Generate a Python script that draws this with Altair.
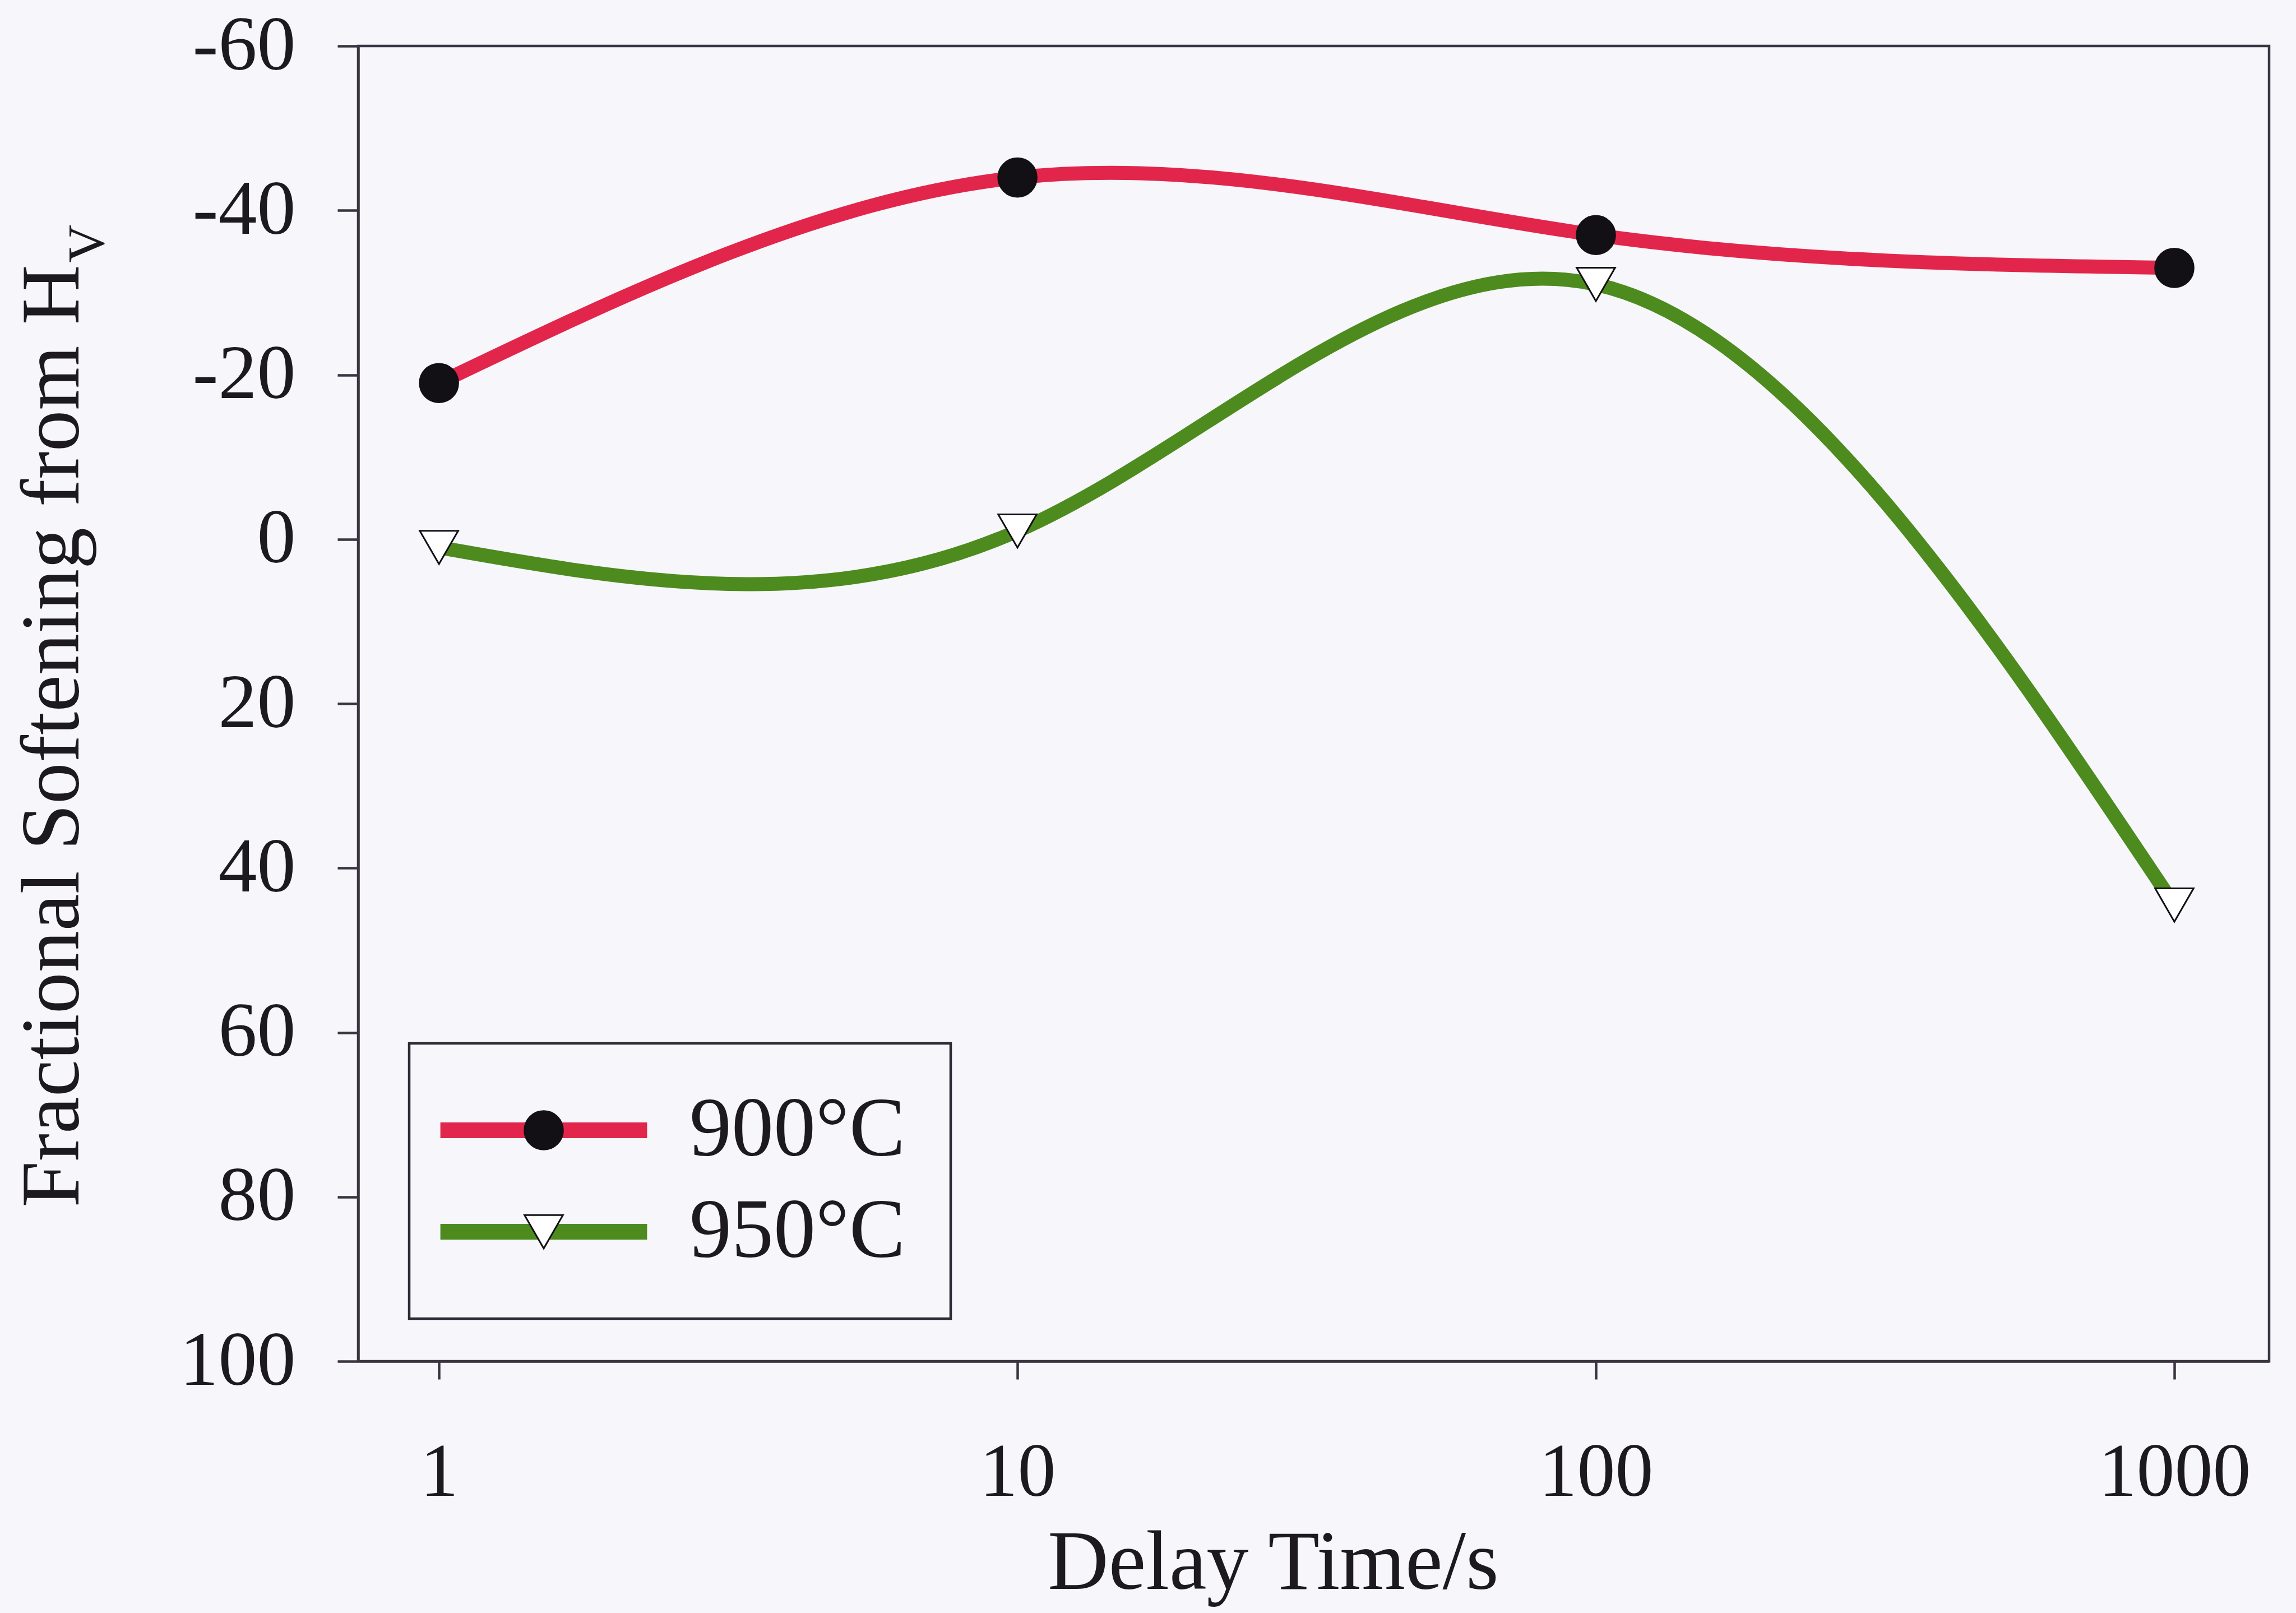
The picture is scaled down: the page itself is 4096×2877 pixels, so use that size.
import altair as alt
import pandas as pd

# Delay time (s) and fractional softening from Vickers hardness
delay_s = [1, 10, 100, 1000]
soft_900 = [-19.0, -44.0, -37.0, -33.0]
soft_950 = [1.0, -1.0, -31.0, 44.5]

temperatures = [900, 950]
series_names = ["900°C", "950°C"]
line_colors = ["#E2264B", "#4E8B1E"]
marker_fills = ["#121014", "#FFFFFF"]
marker_shapes = ["circle", "triangle-down"]

y_ticks = [-60, -40, -20, 0, 20, 40, 60, 80, 100]
x_ticks = [1, 10, 100, 1000]

rows = []
for temp, name, values in zip(temperatures, series_names, [soft_900, soft_950]):
    for t, v in zip(delay_s, values):
        rows.append({"delay": t, "softening": v, "temp": temp, "series": name})
df = pd.DataFrame(rows)

FONT = "Liberation Serif"
INK = "#1c1a1f"
AXIS = "#3b3542"
BG = "#F6F6FB"

W, H = 3409, 2346

x_scale = alt.Scale(type="log", domain=[0.725, 1458], nice=False)
y_scale = alt.Scale(domain=[-60, 100], reverse=True, nice=False, zero=False)

x_axis = alt.Axis(
    values=x_ticks, labelExpr="'' + datum.value", title="Delay Time/s",
    tickSize=32, labelPadding=100, labelFontSize=136, labelLimit=0,
    titleX=1632, titleY=405, titleAlign="center", titleBaseline="alphabetic",
    titleFontSize=150, grid=False,
)

y_axis_main = alt.Axis(
    values=y_ticks, labelExpr="'' + datum.value",
    title="Fractional Softening from H",
    tickSize=37, labelPadding=75, labelFontSize=138, labelLimit=0,
    titleAngle=270, titleAlign="left", titleBaseline="alphabetic",
    titleX=-500, titleY=2071, titleFontSize=148, grid=False,
)

# subscript "V" of H_V, set as a second (title-only) left axis
y_axis_sub = alt.Axis(
    orient="left", title="V", labels=False, ticks=False, domain=False, grid=False,
    titleAngle=270, titleAlign="left", titleBaseline="alphabetic",
    titleX=-455, titleY=386, titleFontSize=94,
)

legend_common = dict(
    title=None, orient="none", legendX=91, legendY=1779,
    labelFont=FONT, labelFontSize=150, labelColor=INK, labelLimit=0,
    labelOffset=185, symbolOffset=85, rowPadding=31, padding=80,
)

# line swatches of the key; its labels are left empty, the marker key carries them
stroke_legend = alt.Legend(
    symbolType="M-20,0H20", symbolSize=340, symbolStrokeWidth=28,
    labelExpr="''", zindex=1, **legend_common,
)

marker_legend = alt.Legend(
    symbolSize=4700, symbolStrokeWidth=3,
    strokeColor="#2f2a35", zindex=2, **legend_common,
)

lines = alt.Chart(df).mark_line(interpolate="natural", strokeWidth=25).encode(
    x=alt.X("delay:Q", scale=x_scale, axis=x_axis),
    y=alt.Y("softening:Q", scale=y_scale, axis=y_axis_main),
    stroke=alt.Stroke("temp:N", scale=alt.Scale(domain=temperatures, range=line_colors),
                      legend=stroke_legend),
)

points = alt.Chart(df).mark_point(
    filled=True, size=4700, stroke="#121014", strokeWidth=3, opacity=1
).encode(
    x=alt.X("delay:Q", scale=x_scale, axis=x_axis),
    y=alt.Y("softening:Q", scale=y_scale, axis=y_axis_sub),
    fill=alt.Fill("series:N", scale=alt.Scale(domain=series_names, range=marker_fills),
                  legend=marker_legend),
    shape=alt.Shape("series:N", scale=alt.Scale(domain=series_names, range=marker_shapes),
                    legend=marker_legend),
)

chart = (
    alt.layer(lines, points)
    .resolve_axis(y="independent")
    .properties(
        width=W, height=H, background=BG,
        padding={"left": 639, "top": 82, "right": 48, "bottom": 449},
        autosize=alt.AutoSizeParams(type="none"),
    )
    .configure_view(stroke=AXIS, strokeWidth=4.5)
    .configure_axis(
        domainColor=AXIS, domainWidth=4.5, tickColor=AXIS, tickWidth=4.5,
        labelFont=FONT, labelColor=INK, titleFont=FONT,
        titleFontWeight="normal", titleColor=INK,
    )
    .configure_legend(strokeWidth=4.5)
)

chart.save("out.html", embed_options={"renderer": "svg", "actions": False})
